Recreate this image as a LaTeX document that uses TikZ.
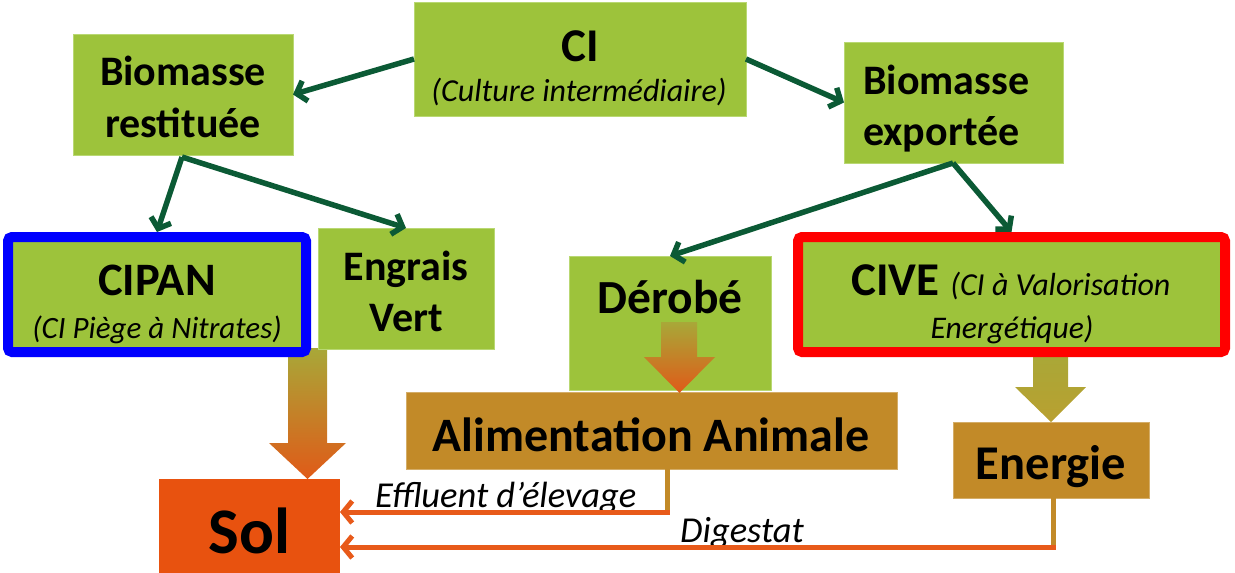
\documentclass[tikz,border=0pt]{standalone}
\usepackage{fontspec}
\setmainfont{Carlito}
\usetikzlibrary{arrows.meta}
\definecolor{cgreen}{HTML}{9DC33B}
\definecolor{cgreenedge}{HTML}{B9D873}
\definecolor{cdark}{HTML}{0B5A35}
\definecolor{cbrown}{HTML}{C28A28}
\definecolor{csol}{HTML}{E8520F}
\definecolor{cline}{HTML}{E85A1A}
\definecolor{colive}{HTML}{A8A838}
\definecolor{corange}{HTML}{E05A18}
\definecolor{cgold}{HTML}{B9A030}
\newcommand\fsz[1]{\fontsize{#1}{#1}\selectfont}
\begin{document}
\begin{tikzpicture}[x=1pt,y=-1pt,
  gbox/.style={fill=cgreen, draw=cgreenedge, line width=0.6pt, inner sep=0pt, outer sep=0pt},
  bbox/.style={fill=cbrown, draw=cbrown!70!white, line width=0.6pt, inner sep=0pt, outer sep=0pt},
  framed/.style={fill=cgreen, line width=10pt, rounded corners=4pt, inner sep=0pt, outer sep=5pt},
  garrow/.style={draw=cdark, line width=5.5pt, -{Straight Barb[length=9pt,width=21pt]}},
  oarrow/.style={draw=cline, line width=5pt, -{Straight Barb[length=9pt,width=22pt]}},
  bline/.style={draw=cbrown, line width=5pt},
  bt/.style={inner sep=0pt, anchor=base, font=\bfseries},
  it/.style={inner sep=0pt, anchor=base, font=\itshape}
]
\useasboundingbox (0,0) rectangle (1235,573);

% block arrows drawn beneath boxes
\shade[top color=colive, bottom color=corange]
  (288,348) -- (327,348) -- (327,443) -- (346,443) -- (307.5,479) -- (269,443) -- (288,443) -- cycle;
\shade[top color=colive, bottom color=cgold]
  (1033,350) -- (1068,350) -- (1068,387) -- (1086,387) -- (1051,422) -- (1015,387) -- (1033,387) -- cycle;

% boxes
\node[gbox, minimum width=332pt, minimum height=114pt] (ci) at (580,59) {};
\node[gbox, minimum width=220pt, minimum height=121pt] (br) at (183,94.5) {};
\node[gbox, minimum width=219pt, minimum height=121pt] (be) at (953.5,102.5) {};
\node[framed, draw=blue, minimum width=298pt, minimum height=115pt] (cipan) at (157,294.5) {};
\node[gbox, minimum width=176pt, minimum height=121pt] (ev) at (406,288.5) {};
\node[gbox, minimum width=202pt, minimum height=134pt] (der) at (670,323) {};
\node[framed, draw=red, minimum width=427pt, minimum height=115pt] (cive) at (1011.5,294.5) {};
\node[bbox, minimum width=491pt, minimum height=77pt] (alim) at (651.5,430.5) {};
\node[bbox, minimum width=196pt, minimum height=76pt] (ener) at (1051,460) {};
\node[fill=csol, inner sep=0pt, outer sep=0pt, minimum width=181pt, minimum height=96pt] (sol) at (249.5,527) {};

% block arrow Dérobé -> Alimentation (on top)
\shade[top color=colive, bottom color=corange]
  (661,322) -- (697,322) -- (697,357) -- (715,357) -- (679.5,393) -- (644,357) -- (661,357) -- cycle;

% texts
\node[bt, font=\bfseries\fsz{47}] (tci) at (580,61) {CI};
\node[it, font=\itshape\fsz{32}] (tci2) at (579,101) {(Culture intermédiaire)};
\node[bt, font=\bfseries\fsz{42}] (tbr1) at (183,85) {Biomasse};
\node[bt, font=\bfseries\fsz{42}] (tbr2) at (183,137) {restituée};
\node[bt, anchor=base west, font=\bfseries\fsz{42}] (tbe1) at (863,94) {Biomasse};
\node[bt, anchor=base west, font=\bfseries\fsz{42}] (tbe2) at (863,145) {exportée};
\node[bt, font=\bfseries\fsz{46.5}] (tcipan) at (157,295) {CIPAN};
\node[it, font=\itshape\fsz{31}] (tcipan2) at (157,338) {(CI Piège à Nitrates)};
\node[bt, font=\bfseries\fsz{42}] (tev1) at (406,280) {Engrais};
\node[bt, font=\bfseries\fsz{42}] (tev2) at (406,331) {Vert};
\node[bt, font=\bfseries\fsz{47.5}] (tder) at (670,313) {Dérobé};
\node[bt, font=\bfseries\fsz{47}] (tcive) at (1011,295) {CIVE {\mdseries\itshape\fsz{32}(CI à Valorisation}};
\node[it, font=\itshape\fsz{31.5}] (tcive2) at (1012,338) {Energétique)};
\node[bt, font=\bfseries\fsz{48}] (talim) at (651,451) {Alimentation Animale};
\node[bt, font=\bfseries\fsz{48.5}] (tener) at (1051,479) {Energie};
\node[bt, font=\bfseries\fsz{65}] (tsol) at (249.5,553) {Sol};
\node[it, anchor=base west, font=\itshape\fsz{36.5}] (teff) at (375,507) {Effluent d’élevage};
\node[it, anchor=base west, font=\itshape\fsz{36.5}] (tdig) at (680,542) {Digestat};

% green connectors
\coordinate (jr) at (182,157);
\coordinate (je) at (953,163);
\draw[garrow] (ci.west) -- (br.east);
\draw[garrow] (ci.east) -- (be.west);
\draw[garrow] (jr) -- (cipan.north);
\draw[garrow] (jr) -- (ev.north);
\draw[garrow] (je) -- (der.north);
\draw[garrow] (je) -- (cive.north);

% effluent and digestat
\coordinate (ef) at (667,512);
\coordinate (dg) at (1053,547);
\draw[bline] (alim.south -| ef) -- ([yshift=2.5pt]ef);
\draw[oarrow] ([xshift=2.5pt]ef) -- (sol.east |- ef);
\draw[bline] (ener.south -| dg) -- ([yshift=2.5pt]dg);
\draw[oarrow] ([xshift=2.5pt]dg) -- (sol.east |- dg);
\end{tikzpicture}
\end{document}
